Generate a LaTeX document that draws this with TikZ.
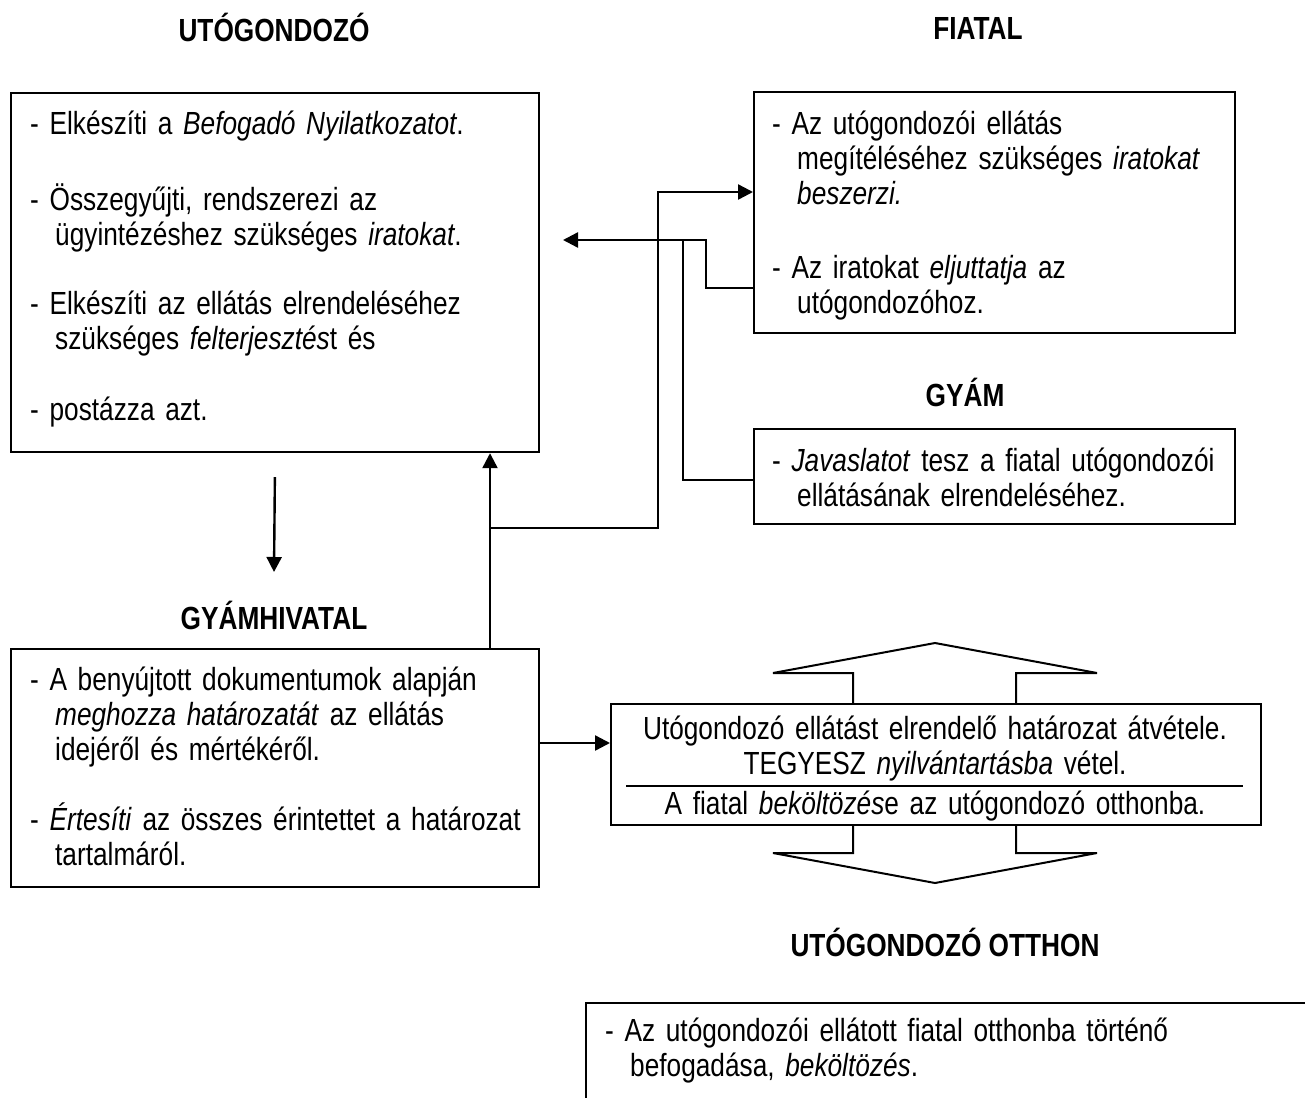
\documentclass[tikz,border=0pt]{standalone}
\usepackage{fontspec}
\setmainfont{Liberation Sans}[FakeStretch=0.82]
\usetikzlibrary{arrows.meta}
\newcommand{\beh}{\hspace*{25pt}}

\begin{document}
\begin{tikzpicture}[x=1pt,y=-1pt,>={Triangle[length=15pt,width=15pt]}]
	\tikzstyle{doboz}=[draw,line width=2.2pt,inner sep=0pt,anchor=north west]
	\tikzstyle{szoveg}=[anchor=base west,text width=690pt,align=left,inner sep=0pt,font=\fontsize{32}{35}\selectfont]
	\tikzstyle{cim}=[anchor=base,inner sep=0pt,font=\fontsize{32}{35}\selectfont\bfseries]
	\tikzstyle{edge}=[line width=2.4pt]

	\fill[white] (0,0) rectangle (1305,1097);
	\useasboundingbox (0,0) rectangle (1305,1097);

	% titles
	\node[cim] (utogcim) at (274,42) {UTÓGONDOZÓ};
	\node[cim] (fiatalcim) at (978,40) {FIATAL};
	\node[cim] (gyamcim) at (965,406) {GYÁM};
	\node[cim] (hivcim) at (274,629) {GYÁMHIVATAL};
	\node[cim] (otthoncim) at (945,956) {UTÓGONDOZÓ OTTHON};

	% boxes
	\node[doboz,minimum width=528pt,minimum height=359pt] (utog) at (10,92) {};
	\node[doboz,minimum width=481pt,minimum height=241pt] (fiatal) at (753,91) {};
	\node[doboz,minimum width=481pt,minimum height=95pt] (gyam) at (753,428) {};
	\node[doboz,minimum width=528pt,minimum height=238pt] (gyhiv) at (10,648) {};
	\node[doboz,minimum width=650pt,minimum height=121pt] (kozep) at (610,703) {};

	% texts
	\node[szoveg] (utogszoveg) at (30,134) {- Elkészíti a \textit{Befogadó Nyilatkozatot}.\\[41pt]
		- Összegyűjti, rendszerezi az\\
		\beh ügyintézéshez szükséges \textit{iratokat}.\\[34pt]
		- Elkészíti az ellátás elrendeléséhez\\
		\beh szükséges \textit{felterjesztés}t és\\[36pt]
		- postázza azt.};
	\node[szoveg] (fiatalszoveg) at (772,135) {- Az utógondozói ellátás\\
		\beh megítéléséhez szükséges \textit{iratokat}\\
		\beh \textit{beszerzi.}\\[38pt]
		- Az iratokat \textit{eljuttatja} az\\
		\beh utógondozóhoz.};
	\node[szoveg] (gyamszoveg) at (772,471) {- \textit{Javaslatot} tesz a fiatal utógondozói\\
		\beh ellátásának elrendeléséhez.};
	\node[szoveg] (hivszoveg) at (30,690) {- A benyújtott dokumentumok alapján\\
		\beh \textit{meghozza határozatát} az ellátás\\
		\beh idejéről és mértékéről.\\[35pt]
		- \textit{Értesíti} az összes érintettet a határozat\\
		\beh tartalmáról.};
	\node[szoveg,anchor=base,text width=640pt,align=center] (kozepszoveg) at (935,739) {Utógondozó ellátást elrendelő határozat átvétele.\\
		TEGYESZ \textit{nyilvántartásba} vétel.};
	\begin{scope}
		\clip (kozep.north west) rectangle ([yshift=6pt]kozep.south east);
		\node[szoveg,anchor=base,text width=640pt,align=center] (bekoltozes) at (935,814) {A fiatal \textit{beköltözés}e az utógondozó otthonba.};
	\end{scope}
	\node[szoveg] (otthonszoveg) at (605,1041) {- Az utógondozói ellátott fiatal otthonba történő\\
		\beh befogadása, \textit{beköltözés}.};

	% double arrow round the middle box
	\draw[edge,line width=2pt] (853,703) -- (853,673) -- (773,673) -- (935,643) -- (1097,673) -- (1016,673) -- (1016,703);
	\draw[edge,line width=2pt] (853,824) -- (853,853) -- (773,853) -- (935,883) -- (1097,853) -- (1016,853) -- (1016,824);
	\draw[edge] (626,786) -- (1243,786);

	% open box at the bottom
	\draw[edge] (1310,1003) -- (586,1003) -- (586,1100);

	% connectors
	\coordinate (le) at (274,572);
	\coordinate (fel) at (490,528);
	\coordinate (sarok1) at (658,192);
	\coordinate (sarok2) at (706,288);
	\coordinate (sarok3) at (706,240);
	\coordinate (vege) at (563,240);
	\coordinate (sarok4) at (683,480);
	\coordinate (kozepnyil) at (0,743);

	\draw[edge,->,shorten <=24pt] (utog.south) -- (le);
	\draw[edge,->] (gyhiv.north -| fel) -- (utog.south -| fel);
	\draw[edge,->] (fel) -| (sarok1) -- (sarok1 -| fiatal.west);
	\draw[edge,->] (sarok2 -| fiatal.west) -- (sarok2) -- (sarok3) -- (vege);
	\draw[edge] (sarok4 -| gyam.west) -- (sarok4) -- (sarok4 |- sarok3);
	\draw[edge,->] (gyhiv.east |- kozepnyil) -- (kozep.west |- kozepnyil);
\end{tikzpicture}
\end{document}
